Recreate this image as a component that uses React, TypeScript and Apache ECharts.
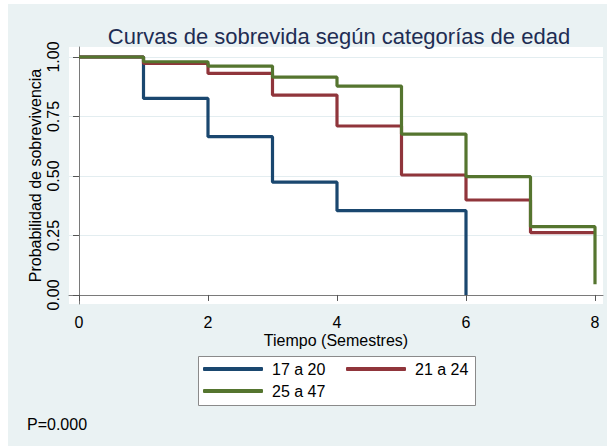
import React, { useEffect, useRef } from "react";
import * as echarts from "echarts";

const times = [0, 1, 2, 3, 4, 5, 6, 7, 8];
const seriesNames = ["17 a 20", "21 a 24", "25 a 47"];
const group1720 = [1.0, 0.826, 0.665, 0.474, 0.354, 0.354, 0.0];
const group2124 = [1.0, 0.973, 0.931, 0.84, 0.71, 0.504, 0.399, 0.262, 0.262];
const group2547 = [1.0, 0.98, 0.962, 0.915, 0.878, 0.676, 0.497, 0.287, 0.045];
const xTicks = [0, 2, 4, 6, 8];
const yTicks = [0, 0.25, 0.5, 0.75, 1];
const colors = ["#1a476f", "#90353b", "#55752f"];

const toPoints = (vals: number[]) => vals.map((v, i) => [times[i], v]);

export default function App() {
  const ref = useRef<HTMLDivElement>(null);
  useEffect(() => {
    document.body.style.margin = "0";
    if (!ref.current) return;
    const chart = echarts.init(ref.current, undefined, { renderer: "svg" });
    const font = "Liberation Sans, Arial, sans-serif";
    const groups = [group1720, group2124, group2547];
    chart.setOption({
      animation: false,
      backgroundColor: "#ffffff",
      textStyle: { fontFamily: font },
      grid: {
        left: 69,
        right: 4,
        top: 47,
        bottom: 142,
        show: true,
        backgroundColor: "#ffffff",
        borderWidth: 0,
      },
      graphic: [
        {
          type: "rect",
          z: -10,
          silent: true,
          shape: { x: 8, y: 4, width: 607, height: 446 },
          style: { fill: "#eaf2f3" },
        },
        {
          type: "text",
          x: 339,
          y: 36,
          style: {
            text: "Curvas de sobrevida según categorías de edad",
            fill: "#1e2d53",
            font: `22px ${font}`,
            textAlign: "center",
            textVerticalAlign: "middle",
          },
        },
        {
          type: "rect",
          z: 5,
          shape: { x: 198.5, y: 356.5, width: 277, height: 49 },
          style: { fill: "#ffffff", stroke: "#8a8a8a", lineWidth: 1 },
        },
        {
          type: "text",
          x: 27,
          y: 424,
          style: {
            text: "P=0.000",
            fill: "#000000",
            font: `16px ${font}`,
            textVerticalAlign: "middle",
          },
        },
      ],
      legend: [
        { data: [seriesNames[0]], left: 203, top: 361 },
        { data: [seriesNames[1]], left: 346, top: 361 },
        { data: [seriesNames[2]], left: 203, top: 383 },
      ].map((l) => ({
        ...l,
        z: 10,
        padding: 0,
        itemWidth: 60,
        itemHeight: 4,
        icon: "roundRect",
        textStyle: {
          fontSize: 16,
          color: "#000",
          fontFamily: font,
          padding: [0, 0, 0, 4],
        },
      })),
      xAxis: {
        type: "value",
        min: -0.155,
        max: 8.124,
        name: "Tiempo (Semestres)",
        nameLocation: "middle",
        nameGap: 28,
        nameMoveOverlap: false,
        nameTextStyle: { fontSize: 16, color: "#000" },
        axisLine: { show: true, lineStyle: { color: "#7a7a7a", width: 1 } },
        axisTick: {
          show: true,
          length: 6,
          customValues: xTicks,
          lineStyle: { color: "#555" },
        },
        axisLabel: {
          customValues: xTicks,
          fontSize: 16,
          color: "#000",
          margin: 10,
        },
        splitLine: { show: false },
      },
      yAxis: {
        type: "value",
        min: -0.038,
        max: 1.042,
        name: "Probabilidad de sobrevivencia",
        nameLocation: "middle",
        nameGap: 26,
        nameMoveOverlap: false,
        nameTextStyle: { fontSize: 16, color: "#000" },
        axisLine: { show: true, lineStyle: { color: "#7a7a7a", width: 1 } },
        axisTick: {
          show: true,
          length: 6,
          customValues: yTicks,
          lineStyle: { color: "#555" },
        },
        axisLabel: {
          customValues: yTicks,
          fontSize: 16,
          color: "#000",
          rotate: 90,
          margin: 8,
          formatter: (v: number) => v.toFixed(2),
        },
        splitLine: {
          show: true,
          lineStyle: { color: "#e3edf0", width: 1.2 },
        },
      },
      series: groups.map((g, i) => ({
        name: seriesNames[i],
        type: "line",
        step: "end",
        symbol: "none",
        z: 3 + i,
        data: toPoints(g),
        lineStyle: { color: colors[i], width: 3.2 },
        itemStyle: { color: colors[i] },
      })),
    });
    return () => chart.dispose();
  }, []);
  return <div ref={ref} style={{ width: 607, height: 446 }} />;
}
